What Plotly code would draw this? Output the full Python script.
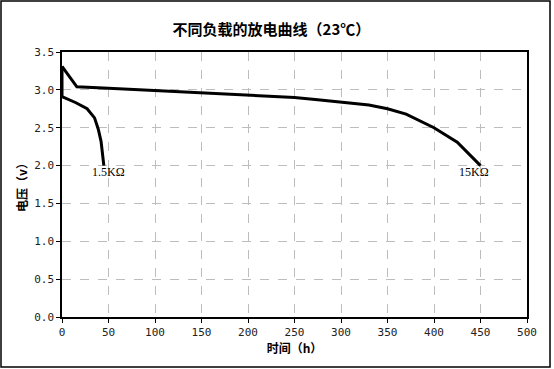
import plotly.graph_objects as go

# 15KΩ load discharge curve
h_15k = [0, 16, 50, 100, 150, 200, 250, 275, 300, 330, 350, 370, 400, 425, 450]
v_15k = [3.31, 3.04, 3.02, 2.99, 2.96, 2.93, 2.90, 2.87, 2.84, 2.80, 2.75, 2.68, 2.50, 2.31, 2.00]

# 1.5KΩ load discharge curve
h_1k5 = [0, 0, 15, 27, 35, 39, 42, 45]
v_1k5 = [3.31, 2.91, 2.83, 2.75, 2.63, 2.48, 2.32, 2.00]

x_ticks = [0, 50, 100, 150, 200, 250, 300, 350, 400, 450, 500]
y_ticks = [0.0, 0.5, 1.0, 1.5, 2.0, 2.5, 3.0, 3.5]
y_tick_text = ["0.0", "0.5", "1.0", "1.5", "2.0", "2.5", "3.0", "3.5"]

labels = ["1.5KΩ", "15KΩ"]
label_x = [50, 443]
label_y = [1.91, 1.91]

W, H = 554, 369
L, R, T, B = 62, 27, 52, 52
pw, ph = W - L - R, H - T - B

fig = go.Figure()
fig.add_trace(go.Scatter(x=h_15k, y=v_15k, mode="lines",
                         line=dict(color="black", width=3), showlegend=False))
fig.add_trace(go.Scatter(x=h_1k5, y=v_1k5, mode="lines",
                         line=dict(color="black", width=3), showlegend=False))

for t, x, y in zip(labels, label_x, label_y):
    fig.add_annotation(x=x, y=y, text=t, showarrow=False,
                       font=dict(family="Liberation Serif", size=12, color="black"))

def px2paper_x(px):
    return (px - L) / pw

def px2paper_y(py):
    return (H - B - py) / ph

fig.add_shape(type="rect", xref="paper", yref="paper",
              x0=px2paper_x(1), x1=px2paper_x(550),
              y0=px2paper_y(367), y1=px2paper_y(1),
              line=dict(color="black", width=1.5), layer="below")

tick_font = dict(family="DejaVu Sans Mono", size=11, color="#222")
axis_common = dict(showline=True, linecolor="black", linewidth=1.5, mirror=True,
                   ticks="outside", ticklen=4, tickcolor="black",
                   showgrid=True, gridcolor="#bdbdbd", griddash="dash", gridwidth=1,
                   zeroline=False, tickfont=tick_font)

fig.update_layout(
    width=W, height=H,
    margin=dict(l=L, r=R, t=T, b=B),
    paper_bgcolor="white", plot_bgcolor="white",
    title=dict(text="不同负载的放电曲线（23℃）", x=0.49, xanchor="center",
               y=1 - 30 / H, yanchor="middle",
               font=dict(family="Noto Sans CJK SC", size=15, color="black", weight="bold")),
    xaxis=dict(range=[0, 500], tickvals=x_ticks, ticktext=[str(v) for v in x_ticks],
               title=dict(text="时间（h）", standoff=6,
                          font=dict(family="Noto Sans CJK SC", size=12, color="black", weight="bold")),
               **axis_common),
    yaxis=dict(range=[0, 3.5], tickvals=y_ticks, ticktext=y_tick_text,
               title=dict(text="电压（v）", standoff=4,
                          font=dict(family="Noto Sans CJK SC", size=12, color="black", weight="bold")),
               **axis_common),
)

fig.write_html("out.html", config={"displayModeBar": False},
               post_script="document.body.style.margin='0';document.body.style.overflow='hidden';")
